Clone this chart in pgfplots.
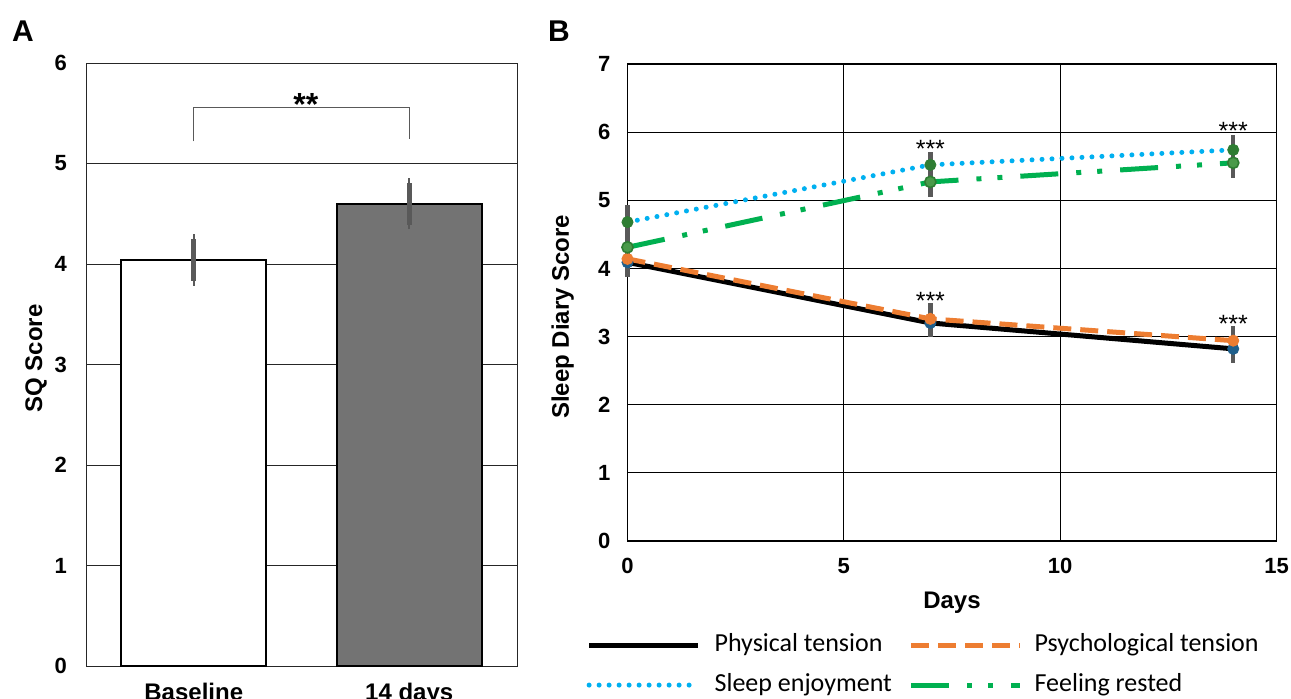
\documentclass[border=0pt]{standalone}
\usepackage{fontspec}
\setmainfont{Liberation Sans}
\newfontfamily\legendfont{Carlito}
\usepackage{pgfplots}
\usepackage{pgfplotstable}
\pgfplotsset{compat=1.18}
\definecolor{errgray}{HTML}{595959}
\definecolor{barfill}{HTML}{737373}
\definecolor{orangeline}{HTML}{ED7D31}
\definecolor{blueline}{HTML}{00B0F0}
\definecolor{greenline}{HTML}{00B050}
\definecolor{darkgreen}{HTML}{2E7D32}
\definecolor{midgreen}{HTML}{4A9A4A}
\definecolor{tealmark}{HTML}{1F5F8B}

% panel B: day, mean, error
\pgfplotstableread{
day val err
0  4.09 0.22
7  3.20 0.21
14 2.82 0.21
}\physical
\pgfplotstableread{
day val err
0  4.14 0.20
7  3.26 0.23
14 2.94 0.22
}\psych
\pgfplotstableread{
day val err
0  4.68 0.25
7  5.52 0.19
14 5.74 0.22
}\enjoy
\pgfplotstableread{
day val err
0  4.31 0.25
7  5.27 0.22
14 5.55 0.22
}\rested

\begin{document}
\begin{tikzpicture}
\useasboundingbox (0,0) rectangle (645.5pt,-349pt);

\node[font=\bfseries\fontsize{15}{18}\selectfont] at (11.5pt,-15.5pt) {A};
\node[font=\bfseries\fontsize{15}{18}\selectfont] at (279.5pt,-15.5pt) {B};

% ---- panel A
\begin{axis}[
    at={(43pt,-333pt)}, anchor=south west,
    scale only axis, width=215.5pt, height=301.5pt,
    xmin=-0.5, xmax=1.5, ymin=0, ymax=6,
    xtick={0,1}, xticklabels={Baseline,14 days},
    ytick={0,1,...,6},
    ymajorgrids, grid style={line width=0.5pt, black!85},
    axis line style={line width=0.5pt, black!85},
    major tick length=0pt,
    /pgf/number format/assume math mode=true,
    tick label style={font=\bfseries\fontsize{11}{13}\selectfont},
    xticklabel style={font=\bfseries\fontsize{12}{14}\selectfont, yshift=-5pt},
    yticklabel style={xshift=-6pt},
    ylabel={SQ Score},
    ylabel style={font=\bfseries\fontsize{12}{14}\selectfont, at={(axis description cs:-0.116,0.51)}, anchor=center},
    clip=false,
]
\addplot[ybar, bar width=72.5pt, bar shift=0pt, fill=white, draw=black, line width=0.8pt,
    error bars/.cd, y dir=both, y explicit,
    error bar style={line width=2.3pt, errgray},
    error mark options={line width=1.2pt, mark size=2.2pt, errgray}]
    coordinates {(0,4.04) +- (0,0.21)};
\addplot[ybar, bar width=72.5pt, bar shift=0pt, fill=barfill, draw=black, line width=0.8pt,
    error bars/.cd, y dir=both, y explicit,
    error bar style={line width=2.3pt, errgray},
    error mark options={line width=1.2pt, mark size=2.2pt, errgray}]
    coordinates {(1,4.60) +- (0,0.21)};
\draw[errgray, line width=0.6pt] (axis cs:0,5.22) -- (axis cs:0,5.56) -- (axis cs:1,5.56) -- (axis cs:1,5.24);
\node[font=\bfseries\fontsize{16}{18}\selectfont, anchor=base, yshift=-9pt] at (axis cs:0.52,5.66) {**};
\end{axis}

% ---- panel B
\begin{axis}[
    at={(313.75pt,-270.5pt)}, anchor=south west,
    scale only axis, width=324.5pt, height=238.5pt,
    xmin=0, xmax=15, ymin=0, ymax=7,
    xtick={0,5,10,15}, ytick={0,1,...,7},
    grid=major, grid style={line width=0.6pt, black},
    axis line style={line width=0.6pt, black},
    major tick length=0pt,
    /pgf/number format/assume math mode=true,
    tick label style={font=\bfseries\fontsize{11}{13}\selectfont},
    xticklabel style={yshift=-5pt},
    yticklabel style={xshift=-5pt},
    xlabel={Days},
    xlabel style={font=\bfseries\fontsize{12}{14}\selectfont, at={(axis description cs:0.5,-0.13)}, anchor=center},
    ylabel={Sleep Diary Score},
    ylabel style={font=\bfseries\fontsize{12}{14}\selectfont, at={(axis description cs:-0.1,0.47)}, anchor=center},
    legend columns=2,
    legend cell align=left,
    legend style={at={(axis description cs:-0.0630,-0.193)}, anchor=north west,
        draw=none, fill=none, inner sep=0pt, outer sep=0pt,
        font=\legendfont\fontsize{13}{15}\selectfont,
        nodes={inner sep=0pt, text height=9pt, text depth=3pt},
        row sep=8pt, column sep=0pt},
    legend image code/.code={\draw[#1] (0pt,0pt) -- (54.5pt,0pt);},
    clip=false,
]
\addplot[black, line width=2.5pt] table[x=day, y=val] {\physical};
\addlegendentry{\hspace*{7pt}\makebox[97pt][l]{Physical tension}}
\addplot[orangeline, line width=2.5pt, dash pattern=on 9pt off 4.5pt] table[x=day, y=val] {\psych};
\addlegendentry{\hspace*{6pt}Psychological tension}
\addplot[blueline, line width=2.5pt, line cap=round, dash pattern=on 0pt off 5pt] table[x=day, y=val] {\enjoy};
\addlegendentry{\hspace*{7pt}\makebox[97pt][l]{Sleep enjoyment}}
\addplot[greenline, line width=2.5pt, dash pattern=on 19pt off 9pt on 2.5pt off 8pt on 2.5pt off 9pt] table[x=day, y=val] {\rested};
\addlegendentry{\hspace*{6pt}Feeling rested}

% error bars
\addplot[forget plot, draw=none, mark=none, error bars/.cd, y dir=both, y explicit,
    error bar style={draw=errgray, solid, line width=2.2pt}, error mark=none]
    table[x=day, y=val, y error=err] {\physical};
\addplot[forget plot, draw=none, mark=none, error bars/.cd, y dir=both, y explicit,
    error bar style={draw=errgray, solid, line width=2.2pt}, error mark=none]
    table[x=day, y=val, y error=err] {\psych};
\addplot[forget plot, draw=none, mark=none, error bars/.cd, y dir=both, y explicit,
    error bar style={draw=errgray, solid, line width=2.2pt}, error mark=none]
    table[x=day, y=val, y error=err] {\enjoy};
\addplot[forget plot, draw=none, mark=none, error bars/.cd, y dir=both, y explicit,
    error bar style={draw=errgray, solid, line width=2.2pt}, error mark=none]
    table[x=day, y=val, y error=err] {\rested};

% markers
\addplot[forget plot, only marks, mark=*, mark size=2.8pt, mark options={solid, fill=tealmark, draw=tealmark}] table[x=day, y=val] {\physical};
\addplot[forget plot, only marks, mark=*, mark size=2.8pt, mark options={solid, fill=orangeline, draw=orangeline}] table[x=day, y=val] {\psych};
\addplot[forget plot, only marks, mark=*, mark size=2.8pt, mark options={solid, fill=darkgreen, draw=darkgreen}] table[x=day, y=val] {\enjoy};
\addplot[forget plot, only marks, mark=*, mark size=2.8pt, mark options={solid, fill=midgreen, draw=darkgreen, line width=0.8pt}] table[x=day, y=val] {\rested};

\node[font=\fontsize{12.5}{14}\selectfont, anchor=base, yshift=-7pt] at (axis cs:7,5.84) {***};
\node[font=\fontsize{12.5}{14}\selectfont, anchor=base, yshift=-7pt] at (axis cs:7,3.60) {***};
\node[font=\fontsize{12.5}{14}\selectfont, anchor=base, yshift=-7pt] at (axis cs:14,6.10) {***};
\node[font=\fontsize{12.5}{14}\selectfont, anchor=base, yshift=-7pt] at (axis cs:14,3.27) {***};
\end{axis}
\end{tikzpicture}
\end{document}
